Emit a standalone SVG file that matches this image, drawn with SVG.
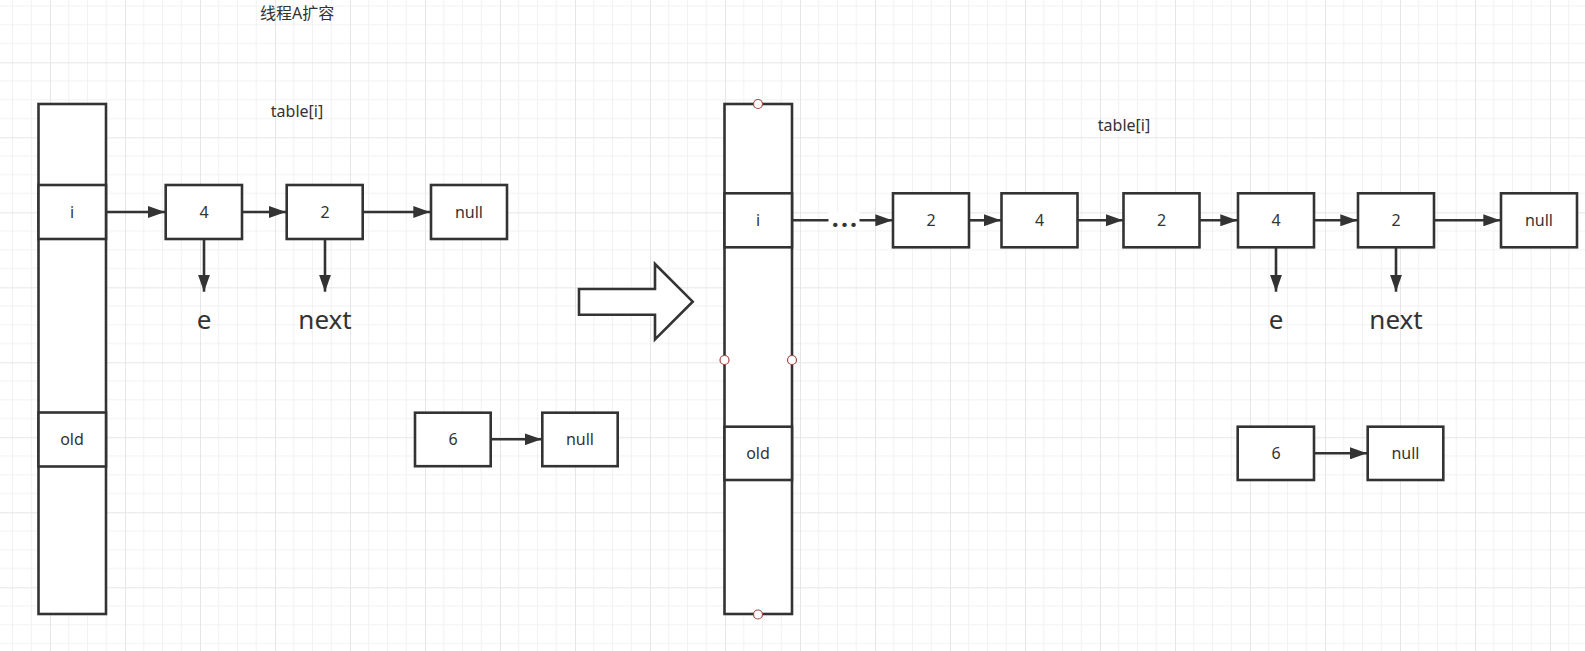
<svg xmlns="http://www.w3.org/2000/svg" width="1585" height="651" viewBox="0 0 1585 651">
<defs>
  <pattern id="grid" patternUnits="userSpaceOnUse" x="50" y="62.3" width="75" height="75">
    <rect width="75" height="75" fill="#ffffff"/>
    <path d="M18.75 0V75M37.5 0V75M56.25 0V75M0 18.75H75M0 37.5H75M0 56.25H75" stroke="#f2f2f2" stroke-width="1" fill="none"/>
    <path d="M0.5 0V75M0 0.5H75" stroke="#e6e6e6" stroke-width="1" fill="none"/>
  </pattern>
  <marker id="ah" viewBox="0 0 17 12" refX="17" refY="6" markerWidth="17" markerHeight="12" markerUnits="userSpaceOnUse" orient="auto">
    <path d="M0 0L17 6L0 12Z" fill="#333333"/>
  </marker>
  <style>
    .box{fill:#ffffff;stroke:#333333;stroke-width:2.6}
    .arr{fill:none;stroke:#333333;stroke-width:2.6}
    .t{font-family:"Noto Sans","Liberation Sans",sans-serif;font-size:16px;fill:#333333;text-anchor:middle}
    .big{font-family:"Noto Sans","Liberation Sans",sans-serif;font-size:26px;fill:#333333;text-anchor:middle}
    .cjk{font-family:"Noto Sans","Noto Sans CJK SC",sans-serif;font-size:16px;fill:#333333}
    .h{fill:#ffffff;stroke:#a94442;stroke-width:1.2}
  </style>
</defs>
<rect width="1585" height="651" fill="url(#grid)"/>

<g id="title"><text class="cjk" x="260" y="19">线程A扩容</text></g>
<g id="label-table-left"><text class="t" x="297" y="117">table[i]</text></g>
<g id="label-table-right"><text class="t" x="1124" y="131">table[i]</text></g>

<!-- Left table -->
<g id="left-table">
  <rect class="box" x="38.5" y="104" width="67.5" height="510"/>
  <rect class="box" x="38.5" y="185" width="67.5" height="54"/>
  <rect class="box" x="38.5" y="412.5" width="67.5" height="54"/>
  <text class="t" x="72" y="218">i</text>
  <text class="t" x="72" y="445">old</text>
</g>

<!-- Left nodes -->
<g id="l-n4"><rect class="box" x="165.7" y="185" width="76.3" height="54"/><text class="t" x="204" y="218">4</text></g>
<g id="l-n2"><rect class="box" x="286.7" y="185" width="76" height="54"/><text class="t" x="325" y="218">2</text></g>
<g id="l-null"><rect class="box" x="431" y="185" width="76" height="54"/><text class="t" x="469" y="218">null</text></g>
<g id="l-e"><text class="big" x="204" y="329">e</text></g>
<g id="l-next"><text class="big" x="325" y="329">next</text></g>
<g id="l-n6"><rect class="box" x="415" y="412.7" width="75.7" height="53.5"/><text class="t" x="453" y="445">6</text></g>
<g id="l-null2"><rect class="box" x="542.3" y="412.7" width="75.4" height="53.5"/><text class="t" x="580" y="445">null</text></g>

<!-- Block arrow -->
<g id="transform-arrow">
  <path class="box" d="M579 289H655V264L692.7 301.7L655 339.3V314.7H579Z"/>
</g>

<!-- Right table -->
<g id="right-table">
  <rect class="box" x="724.5" y="104" width="67.5" height="510"/>
  <rect class="box" x="724.5" y="193.3" width="67.5" height="54"/>
  <rect class="box" x="724.5" y="426.7" width="67.5" height="53.3"/>
  <text class="t" x="758" y="226">i</text>
  <text class="t" x="758" y="459">old</text>
  <circle class="h" cx="758" cy="104" r="4.5"/>
  <circle class="h" cx="724.5" cy="360" r="4.5"/>
  <circle class="h" cx="792" cy="360" r="4.5"/>
  <circle class="h" cx="758" cy="614.5" r="4.5"/>
</g>

<!-- Right nodes -->
<g id="r-n2a"><rect class="box" x="893" y="193.3" width="76" height="54"/><text class="t" x="931" y="226">2</text></g>
<g id="r-n4a"><rect class="box" x="1001.5" y="193.3" width="76" height="54"/><text class="t" x="1039.5" y="226">4</text></g>
<g id="r-n2b"><rect class="box" x="1123.5" y="193.3" width="76" height="54"/><text class="t" x="1161.5" y="226">2</text></g>
<g id="r-n4b"><rect class="box" x="1238" y="193.3" width="76" height="54"/><text class="t" x="1276" y="226">4</text></g>
<g id="r-n2c"><rect class="box" x="1358" y="193.3" width="76" height="54"/><text class="t" x="1396" y="226">2</text></g>
<g id="r-null"><rect class="box" x="1501" y="193.3" width="76" height="54"/><text class="t" x="1539" y="226">null</text></g>
<g id="r-e"><text class="big" x="1276" y="329">e</text></g>
<g id="r-next"><text class="big" x="1396" y="329">next</text></g>
<g id="r-n6"><rect class="box" x="1237.7" y="426.7" width="76.3" height="53.3"/><text class="t" x="1276" y="459">6</text></g>
<g id="r-null2"><rect class="box" x="1367.7" y="426.7" width="75.6" height="53.3"/><text class="t" x="1405.5" y="459">null</text></g>

<!-- Connectors -->
<g id="connectors">
  <line class="arr" x1="106" y1="212" x2="165" y2="212" marker-end="url(#ah)"/>
  <line class="arr" x1="242" y1="212" x2="286" y2="212" marker-end="url(#ah)"/>
  <line class="arr" x1="362.7" y1="212" x2="430.3" y2="212" marker-end="url(#ah)"/>
  <line class="arr" x1="204" y1="239" x2="204" y2="291.7" marker-end="url(#ah)"/>
  <line class="arr" x1="325" y1="239" x2="325" y2="291.7" marker-end="url(#ah)"/>
  <line class="arr" x1="490.7" y1="439.3" x2="541.6" y2="439.3" marker-end="url(#ah)"/>

  <line class="arr" x1="792" y1="220.3" x2="892.3" y2="220.3" marker-end="url(#ah)"/>
  <rect x="828.5" y="212" width="31" height="18" fill="#ffffff"/>
  <text x="845.5" y="226.5" text-anchor="middle" font-family="Noto Sans, Liberation Sans, sans-serif" font-size="25" font-weight="bold" letter-spacing="2.2" fill="#333333">...</text>
  <line class="arr" x1="969" y1="220.3" x2="1000.8" y2="220.3" marker-end="url(#ah)"/>
  <line class="arr" x1="1077.5" y1="220.3" x2="1122.8" y2="220.3" marker-end="url(#ah)"/>
  <line class="arr" x1="1199.5" y1="220.3" x2="1237.3" y2="220.3" marker-end="url(#ah)"/>
  <line class="arr" x1="1314" y1="220.3" x2="1357.3" y2="220.3" marker-end="url(#ah)"/>
  <line class="arr" x1="1434" y1="220.3" x2="1500.3" y2="220.3" marker-end="url(#ah)"/>
  <line class="arr" x1="1276" y1="247.3" x2="1276" y2="291.7" marker-end="url(#ah)"/>
  <line class="arr" x1="1396" y1="247.3" x2="1396" y2="291.7" marker-end="url(#ah)"/>
  <line class="arr" x1="1314" y1="453.3" x2="1367" y2="453.3" marker-end="url(#ah)"/>
</g>
</svg>
